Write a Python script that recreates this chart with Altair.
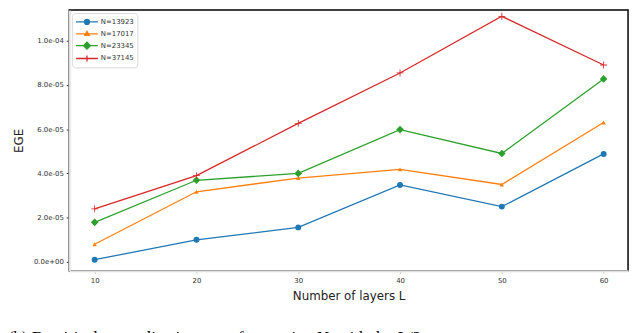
import altair as alt
import pandas as pd

# ---- data ----
layers = [10, 20, 30, 40, 50, 60]
series = ["N=13923", "N=17017", "N=23345", "N=37145"]
ege_13923 = [0.10e-5, 1.00e-5, 1.56e-5, 3.48e-5, 2.50e-5, 4.88e-5]
ege_17017 = [0.80e-5, 3.17e-5, 3.79e-5, 4.18e-5, 3.50e-5, 6.30e-5]
ege_23345 = [1.79e-5, 3.69e-5, 4.00e-5, 5.98e-5, 4.90e-5, 8.27e-5]
ege_37145 = [2.40e-5, 3.90e-5, 6.26e-5, 8.54e-5, 11.10e-5, 8.90e-5]
y_ticks = [0, 2e-5, 4e-5, 6e-5, 8e-5, 1e-4]
y_tick_labels = ["0.0e+00", "2.0e-05", "4.0e-05", "6.0e-05", "8.0e-05", "1.0e-04"]
caption = ["(b) Empirical generalization error for varying N, with d = L/2"]

colors = ["#1f77b4", "#ff7f0e", "#2ca02c", "#d62728"]
thin_plus = "M-1,-0.12H-0.12V-1H0.12V-0.12H1V0.12H0.12V1H-0.12V0.12H-1Z"
shapes = ["circle", "triangle-up", "diamond", thin_plus]
sizes = [36, 20, 60, 49]


def ring(cx, r):
    return f"M{cx + r},0A{r},{r},0,1,1,{cx - r},0A{r},{r},0,1,1,{cx + r},0Z"


# legend symbols: a line with the marker in the middle (stroked only)
seg = "M-1,0L3.4,0"
legend_paths = [
    seg + ring(1.2, 0.5) + ring(1.2, 0.3) + ring(1.2, 0.1),
    seg + "M1.2,-0.5L1.65,0.3L0.75,0.3ZM1.2,-0.2L1.4,0.15L1.0,0.15Z",
    seg + "M1.2,-0.7L1.9,0L1.2,0.7L0.5,0ZM1.2,-0.42L1.62,0L1.2,0.42L0.78,0ZM1.2,-0.15L1.35,0L1.2,0.15L1.05,0Z",
    seg + "M1.2,-0.6L1.2,0.6",
]

rows = []
for name, vals in zip(series, [ege_13923, ege_17017, ege_23345, ege_37145]):
    for L, v in zip(layers, vals):
        rows.append({"L": L, "EGE": v, "series": name})
df = pd.DataFrame(rows)

label_expr = ""
for v, lab in zip(y_ticks, y_tick_labels):
    label_expr += f"abs(datum.value - {v}) < 1e-9 ? '{lab}' : "
label_expr += "''"

x_enc = alt.X(
    "L:Q",
    scale=alt.Scale(domain=[7.5, 62.4], nice=False, zero=False),
    axis=alt.Axis(
        values=layers, title="Number of layers L", grid=False,
        labelFontSize=7, labelColor="#333", labelFont="DejaVu Sans",
        tickSize=3, tickColor="#ccc", domainColor="#e0e0e0", domainWidth=2,
        titleFontSize=12, titleFontWeight="normal", titleColor="#222",
        titleFont="DejaVu Sans", titlePadding=7, labelPadding=3,
    ),
)
y_enc = alt.Y(
    "EGE:Q",
    scale=alt.Scale(domain=[-0.40e-5, 11.38e-5], nice=False, zero=False),
    axis=alt.Axis(
        values=y_ticks, labelExpr=label_expr, title="EGE", grid=False,
        labelFontSize=7, labelColor="#333", labelFont="DejaVu Sans",
        tickSize=3, tickColor="#333", domainColor="#e0e0e0", domainWidth=2,
        titleFontSize=12, titleFontWeight="normal", titleColor="#222",
        titleFont="DejaVu Sans", titlePadding=8, labelPadding=3,
    ),
)

leg = alt.Legend(
    title=None, orient="top-left", offset=3, padding=3,
    strokeColor="#d8d8d8", cornerRadius=3, fillColor="white",
    labelFontSize=7, labelColor="#333", labelFont="DejaVu Sans",
    symbolSize=100, labelOffset=14, rowPadding=0,
    symbolStrokeWidth=1.3, symbolOpacity=1,
)

base = alt.Chart(df)
lines = base.mark_line(strokeWidth=1.3).encode(
    x=x_enc, y=y_enc,
    stroke=alt.Stroke("series:N", scale=alt.Scale(domain=series, range=colors), legend=None),
)

point_layers = []
for name, shp, sz in zip(series, shapes, sizes):
    point_layers.append(
        base.transform_filter(alt.datum.series == name)
        .mark_point(filled=True, opacity=1, shape=shp, size=sz, strokeWidth=0)
        .encode(
            x=x_enc, y=y_enc,
            fill=alt.Fill("series:N", scale=alt.Scale(domain=series, range=colors), legend=None),
        )
    )

legend_layer = base.transform_filter("datum.L < 0").mark_point(
    filled=False, strokeWidth=1.3, opacity=1
).encode(
    x=x_enc, y=y_enc,
    color=alt.Color("series:N", scale=alt.Scale(domain=series, range=colors), legend=leg),
    shape=alt.Shape("series:N", scale=alt.Scale(domain=series, range=legend_paths), legend=leg),
)
cap = alt.Chart(pd.DataFrame({"t": caption})).mark_text(
    align="left", baseline="alphabetic", font="Liberation Serif", fontSize=17, color="black"
).encode(x=alt.value(-62), y=alt.value(337), text="t:N")

chart = alt.layer(lines, *point_layers, legend_layer, cap).resolve_scale(
    color="independent", shape="independent"
).resolve_legend(
    color="independent", shape="independent"
).properties(
    width=566, height=264,
    autosize=alt.AutoSizeParams(type="none"),
    padding={"left": 62, "top": 0, "right": 4, "bottom": 70},
).configure_view(stroke="black", strokeWidth=1.5)

chart.save("out.html", embed_options={"renderer": "svg", "actions": False})
